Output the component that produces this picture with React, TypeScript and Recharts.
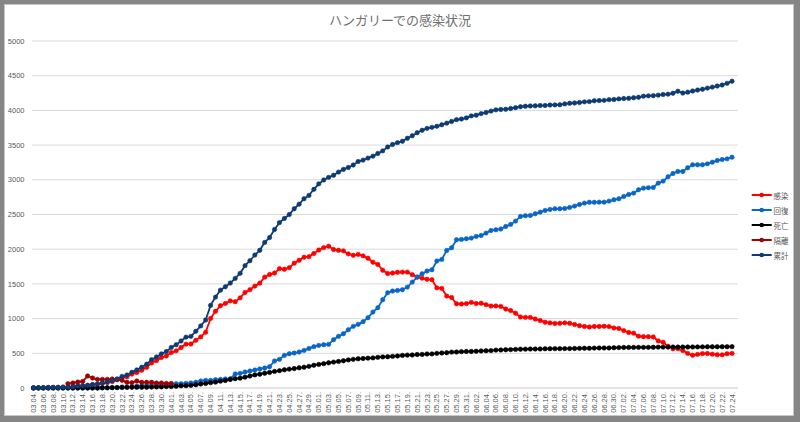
import React from "react";
import { LineChart, Line, XAxis, YAxis, CartesianGrid, Legend } from "recharts";

// day labels, 03.04. .. 07.24.
const dates = [
  "03.04.", "03.05.", "03.06.", "03.07.", "03.08.", "03.09.", "03.10.", "03.11.", "03.12.", "03.13.",
  "03.14.", "03.15.", "03.16.", "03.17.", "03.18.", "03.19.", "03.20.", "03.21.", "03.22.", "03.23.",
  "03.24.", "03.25.", "03.26.", "03.27.", "03.28.", "03.29.", "03.30.", "03.31.",
  "04.01.", "04.02.", "04.03.", "04.04.", "04.05.", "04.06.", "04.07.", "04.08.", "04.09.", "04.10.",
  "04.11.", "04.12.", "04.13.", "04.14.", "04.15.", "04.16.", "04.17.", "04.18.", "04.19.", "04.20.",
  "04.21.", "04.22.", "04.23.", "04.24.", "04.25.", "04.26.", "04.27.", "04.28.", "04.29.", "04.30.",
  "05.01.", "05.02.", "05.03.", "05.04.", "05.05.", "05.06.", "05.07.", "05.08.", "05.09.", "05.10.",
  "05.11.", "05.12.", "05.13.", "05.14.", "05.15.", "05.16.", "05.17.", "05.18.", "05.19.", "05.20.",
  "05.21.", "05.22.", "05.23.", "05.24.", "05.25.", "05.26.", "05.27.", "05.28.", "05.29.", "05.30.", "05.31.",
  "06.01.", "06.02.", "06.03.", "06.04.", "06.05.", "06.06.", "06.07.", "06.08.", "06.09.", "06.10.",
  "06.11.", "06.12.", "06.13.", "06.14.", "06.15.", "06.16.", "06.17.", "06.18.", "06.19.", "06.20.",
  "06.21.", "06.22.", "06.23.", "06.24.", "06.25.", "06.26.", "06.27.", "06.28.", "06.29.", "06.30.",
  "07.01.", "07.02.", "07.03.", "07.04.", "07.05.", "07.06.", "07.07.", "07.08.", "07.09.", "07.10.",
  "07.11.", "07.12.", "07.13.", "07.14.", "07.15.", "07.16.", "07.17.", "07.18.", "07.19.", "07.20.",
  "07.21.", "07.22.", "07.23.", "07.24.",
];

// 感染
const active = [
  2, 4, 5, 7, 9, 9, 13, 13, 19, 30,
  31, 38, 48, 56, 67, 79, 92, 118, 144, 162,
  200, 223, 256, 298, 361, 395, 439, 461, 511, 535,
  584, 632, 634, 688, 736, 804, 1003, 1105, 1186, 1219,
  1256, 1243, 1299, 1377, 1417, 1468, 1511, 1597, 1636, 1656,
  1720, 1711, 1734, 1799, 1840, 1885, 1893, 1939, 1988, 2023,
  2043, 1996, 1984, 1976, 1933, 1912, 1925, 1904, 1870, 1813,
  1781, 1697, 1649, 1656, 1667, 1670, 1670, 1633, 1598, 1583,
  1566, 1561, 1443, 1435, 1325, 1303, 1213, 1211, 1216, 1234,
  1217, 1222, 1201, 1181, 1182, 1176, 1138, 1117, 1078, 1022,
  1018, 1017, 994, 973, 948, 938, 930, 932, 939, 932,
  916, 898, 887, 879, 887, 887, 890, 885, 865, 858,
  827, 800, 790, 747, 739, 739, 735, 679, 659, 602,
  566, 567, 540, 499, 472, 485, 496, 497, 488, 479,
  478, 493, 499,
];

// 回復
const recovered = [
  0, 0, 0, 0, 0, 0, 0, 0, 0, 0,
  0, 0, 1, 1, 2, 2, 7, 7, 16, 16,
  16, 28, 34, 34, 34, 37, 37, 44, 53, 62,
  62, 67, 72, 82, 101, 110, 110, 120, 125, 130,
  134, 202, 211, 230, 245, 259, 274, 288, 307, 389,
  413, 470, 494, 504, 518, 542, 570, 596, 614, 624,
  629, 696, 744, 782, 840, 888, 917, 955, 1013, 1094,
  1157, 1272, 1373, 1397, 1406, 1416, 1454, 1526, 1598, 1646,
  1685, 1704, 1829, 1853, 1982, 2021, 2136, 2141, 2150, 2160,
  2184, 2198, 2232, 2270, 2280, 2290, 2328, 2357, 2405, 2472,
  2482, 2486, 2510, 2534, 2558, 2573, 2582, 2582, 2587, 2602,
  2621, 2645, 2664, 2676, 2676, 2678, 2678, 2693, 2712, 2726,
  2760, 2789, 2808, 2856, 2880, 2885, 2890, 2952, 2981, 3043,
  3091, 3120, 3120, 3173, 3216, 3216, 3216, 3230, 3254, 3278,
  3293, 3302, 3326,
];

// 死亡
const deaths = [
  0, 0, 0, 0, 0, 0, 0, 0, 0, 0,
  1, 1, 1, 1, 4, 4, 4, 6, 7, 9,
  10, 10, 10, 11, 13, 15, 16, 20, 21, 26,
  32, 34, 38, 47, 58, 66, 77, 85, 99, 109,
  122, 134, 142, 156, 172, 189, 199, 213, 225, 239,
  250, 262, 272, 280, 291, 300, 312, 328, 340, 351,
  363, 373, 383, 392, 405, 413, 421, 425, 430, 434,
  442, 448, 451, 456, 462, 470, 474, 476, 482, 484,
  490, 491, 499, 505, 509, 517, 518, 524, 526, 527,
  530, 534, 537, 539, 546, 548, 551, 553, 556, 559,
  560, 561, 562, 563, 565, 566, 567, 567, 568, 568,
  570, 571, 572, 572, 575, 577, 577, 577, 580, 582,
  584, 585, 585, 586, 586, 586, 587, 589, 589, 589,
  590, 590, 590, 591, 591, 592, 593, 594, 594, 594,
  595, 595, 596,
];

// 隔離 (only reported 03.11. - 04.01.)
const isolatedFrom = "03.11.";
const isolated = [
  62, 72, 86, 96, 173, 144, 125, 125, 125, 130,
  125, 110, 82, 77, 101, 82, 82, 82, 72, 72,
  67, 67,
];

// 累計
const total = [
  2, 4, 5, 7, 9, 9, 13, 13, 19, 30,
  32, 39, 50, 58, 73, 85, 103, 131, 167, 187,
  226, 261, 300, 343, 408, 447, 492, 525, 585, 623,
  678, 733, 744, 817, 895, 980, 1190, 1310, 1410, 1458,
  1512, 1579, 1652, 1763, 1834, 1916, 1984, 2098, 2168, 2284,
  2383, 2443, 2500, 2583, 2649, 2727, 2775, 2863, 2942, 2998,
  3035, 3065, 3111, 3150, 3178, 3213, 3263, 3284, 3313, 3341,
  3380, 3417, 3473, 3509, 3535, 3556, 3598, 3635, 3678, 3713,
  3741, 3756, 3771, 3793, 3816, 3841, 3867, 3876, 3892, 3921,
  3931, 3954, 3970, 3990, 4008, 4014, 4017, 4027, 4039, 4053,
  4060, 4064, 4066, 4070, 4071, 4077, 4079, 4081, 4094, 4102,
  4107, 4114, 4123, 4127, 4138, 4142, 4145, 4155, 4157, 4166,
  4171, 4174, 4183, 4189, 4205, 4210, 4212, 4220, 4229, 4234,
  4247, 4277, 4250, 4263, 4279, 4293, 4305, 4321, 4336, 4351,
  4366, 4390, 4421,
];

const yTicks = [0, 500, 1000, 1500, 2000, 2500, 3000, 3500, 4000, 4500, 5000];

const series = [
  { key: "active", name: "感染", color: "#FF0000" },
  { key: "recovered", name: "回復", color: "#0A66C6" },
  { key: "deaths", name: "死亡", color: "#000000" },
  { key: "isolated", name: "隔離", color: "#A00000" },
  { key: "total", name: "累計", color: "#0E3B70" },
];

const isoStart = dates.indexOf(isolatedFrom);

const data = dates.map((date, i) => ({
  date,
  active: active[i],
  recovered: recovered[i],
  deaths: deaths[i],
  isolated: i >= isoStart && i < isoStart + isolated.length ? isolated[i - isoStart] : null,
  total: total[i],
}));

const font = "'Liberation Sans', Arial, sans-serif";
const jpFont = "'Noto Sans CJK JP', sans-serif";

const DateTick = ({ x, y, payload }: any) => (
  <text
    x={x}
    y={y}
    transform={`rotate(-90 ${x} ${y})`}
    textAnchor="end"
    dominantBaseline="central"
    fontSize={7.5}
    fontFamily={font}
    fill="#595959"
  >
    {payload.value}
  </text>
);

// legend rows are 15px apart
const renderLegend = () => (
  <svg width={46} height={76}>
    {series.map((s, i) => (
      <g key={s.key}>
        <line x1={1.7} x2={21.7} y1={5 + i * 15} y2={5 + i * 15} stroke={s.color} strokeWidth={2} />
        <circle cx={11.7} cy={5 + i * 15} r={2.3} fill={s.color} />
        <text x={23.5} y={5 + i * 15} dominantBaseline="central" fontSize={7.5} fontFamily={jpFont} fill="#595959">
          {s.name}
        </text>
      </g>
    ))}
  </svg>
);

const App: React.FC = () => {
  return (
    <div style={{ position: "relative", width: 800, height: 422, background: "#868686" }}>
      <style>{"body{margin:0}"}</style>
      <div
        style={{
          position: "absolute",
          left: 4,
          top: 4,
          width: 788,
          height: 410,
          background: "#fff",
          border: "1px solid #c8c8c8",
        }}
      />
      <div
        style={{
          position: "absolute",
          top: 10,
          left: 0,
          width: 800,
          textAlign: "center",
          fontFamily: jpFont,
          fontSize: 13,
          color: "#707070",
        }}
      >
        ハンガリーでの感染状況
      </div>

      <LineChart
        width={800}
        height={422}
        data={data}
        margin={{ top: 41, right: 62, bottom: 0, left: 0 }}
        style={{ position: "absolute", left: 0, top: 0 }}
      >
        <CartesianGrid vertical={false} stroke="#d9d9d9" />
        <XAxis
          dataKey="date"
          interval={1}
          height={34}
          tickSize={0}
          tickMargin={4}
          tickLine={false}
          axisLine={{ stroke: "#d9d9d9" }}
          padding={{ left: 1.5, right: 6 }}
          tick={<DateTick />}
        />
        <YAxis
          domain={[0, 5000]}
          ticks={yTicks}
          interval={0}
          width={32}
          tickSize={0}
          tickMargin={7.5}
          axisLine={false}
          tickLine={false}
          tick={{ fontSize: 7.5, fill: "#595959", fontFamily: font }}
        />
        <Legend
          content={renderLegend}
          layout="horizontal"
          align="center"
          verticalAlign="middle"
          wrapperStyle={{ left: 750, top: 190, width: 46, height: 76 }}
        />
        {series.map((s) => (
          <Line
            key={s.key}
            type="linear"
            dataKey={s.key}
            name={s.name}
            stroke={s.color}
            strokeWidth={1.8}
            dot={{ r: 2.2, fill: s.color, stroke: s.color, strokeWidth: 0.6 }}
            activeDot={false}
            isAnimationActive={false}
          />
        ))}
      </LineChart>
    </div>
  );
};

export default App;
